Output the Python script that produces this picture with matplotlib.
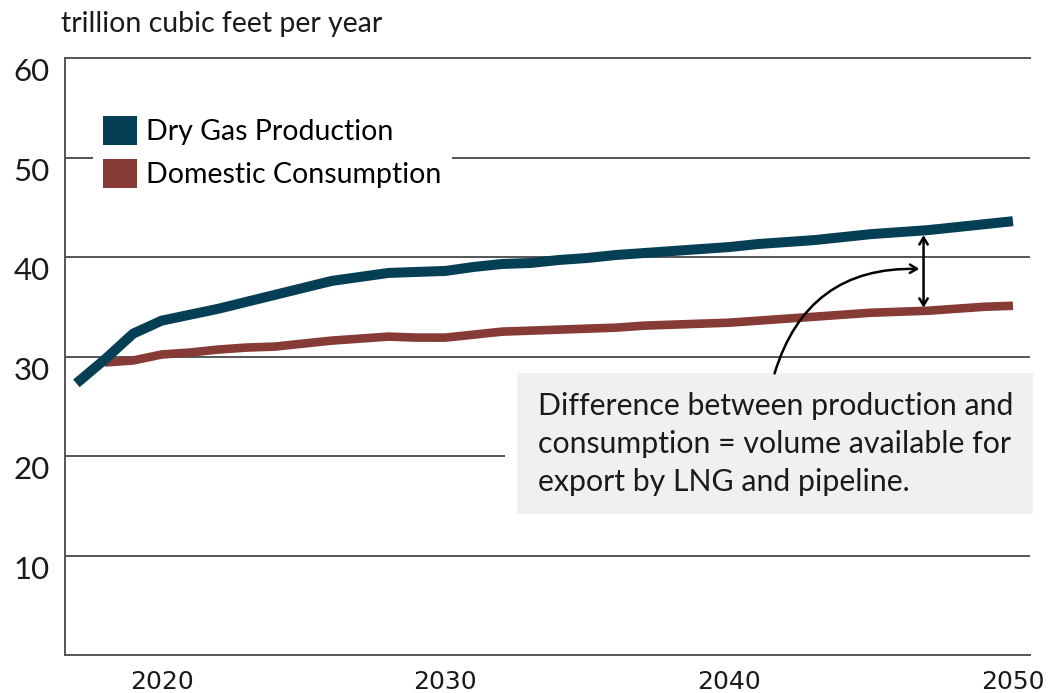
import matplotlib.pyplot as plt
from matplotlib.patches import Patch, Rectangle

# data (trillion cubic feet per year)
prod_years = list(range(2017, 2051))
production = [27.3, 29.7, 32.3, 33.6, 34.2, 34.8, 35.5, 36.2, 36.9, 37.6,
              38.0, 38.4, 38.5, 38.6, 39.0, 39.3, 39.4, 39.7, 39.9, 40.2,
              40.4, 40.6, 40.8, 41.0, 41.3, 41.5, 41.7, 42.0, 42.3, 42.5,
              42.7, 43.0, 43.3, 43.6]
cons_years = list(range(2018, 2051))
consumption = [29.4, 29.6, 30.2, 30.4, 30.7, 30.9, 31.0, 31.3, 31.6, 31.8,
               32.0, 31.9, 31.9, 32.2, 32.5, 32.6, 32.7, 32.8, 32.9, 33.1,
               33.2, 33.3, 33.4, 33.6, 33.8, 34.0, 34.2, 34.4, 34.5, 34.6,
               34.8, 35.0, 35.1]
x_ticks = [2020, 2030, 2040, 2050]
y_ticks = [10, 20, 30, 40, 50, 60]

blue = '#053f55'
red = '#873b36'
grid = '#555555'

plt.rcParams['font.family'] = ['Lato', 'DejaVu Sans']

fig = plt.figure(figsize=(10.59, 6.93), dpi=100)
ax = fig.add_axes([0.0614, 0.0548, 0.9112, 0.8615])

ax.set_xlim(2016.6, 2050.6)
ax.set_ylim(0, 60)

for v in y_ticks[:-1]:
    ax.axhline(v, color=grid, lw=1.4, zorder=1)

ax.plot(cons_years, consumption, color=red, lw=6.2, solid_capstyle='butt', zorder=3)
ax.plot(prod_years, production, color=blue, lw=7.2, solid_capstyle='butt', zorder=4)

ax.spines['right'].set_visible(False)
for s in ['left', 'bottom', 'top']:
    ax.spines[s].set_color(grid)
    ax.spines[s].set_linewidth(1.4)

ax.set_xticks(x_ticks)
ax.set_xticklabels([str(t) for t in x_ticks], fontsize=18, family='Liberation Sans Narrow')
ax.set_yticks(y_ticks)
ax.set_yticklabels([str(t) for t in y_ticks], fontsize=22.5)
ax.tick_params(axis='both', length=0, colors='#1a1a1a')
ax.tick_params(axis='y', pad=11)
ax.tick_params(axis='x', pad=11)
for t in ax.get_yticklabels():
    t.set_va('top')

fig.text(0.058, 0.965, 'trillion cubic feet per year', fontsize=20.5, va='center', color='#1a1a1a')

# legend
handles = [Patch(facecolor=blue, edgecolor='none', label='Dry Gas Production'),
           Patch(facecolor=red, edgecolor='none', label='Domestic Consumption')]
leg = ax.legend(handles=handles, loc='upper left', bbox_to_anchor=(0.029, 0.92),
                fontsize=20.5, frameon=True, facecolor='white', edgecolor='none',
                framealpha=1, fancybox=False, handlelength=1.2, handleheight=1.2,
                handletextpad=0.32, labelspacing=0.5, borderpad=0.35,
                borderaxespad=0)
leg.set_zorder(5)

# annotation box
ax.add_patch(Rectangle((2032.1, 13.2), 18.9, 16.0, facecolor='white', edgecolor='none',
                       zorder=2, clip_on=False))
ax.add_patch(Rectangle((2032.52, 14.17), 18.2, 14.17, facecolor='#eff0f0', edgecolor='none',
                       zorder=2.5, clip_on=False))
ax.text(2033.25, 21.2, 'Difference between production and\nconsumption = volume available for\nexport by LNG and pipeline.',
        fontsize=21.8, va='center', ha='left', linespacing=1.45, color='#1a1a1a', zorder=6)

# arrows
ax.annotate('', xy=(2046.85, 42.2), xytext=(2046.85, 34.9),
            arrowprops=dict(arrowstyle='<->,head_length=0.5,head_width=0.3', color='black', lw=1.8,
                            shrinkA=0, shrinkB=0), zorder=6)
ax.annotate('', xy=(2046.7, 38.8), xytext=(2041.6, 28.3),
            arrowprops=dict(arrowstyle='->,head_length=0.5,head_width=0.3', color='black', lw=1.8,
                            shrinkA=0, shrinkB=0, connectionstyle='arc3,rad=-0.38'), zorder=6)

fig.savefig('out.png', dpi=100)
